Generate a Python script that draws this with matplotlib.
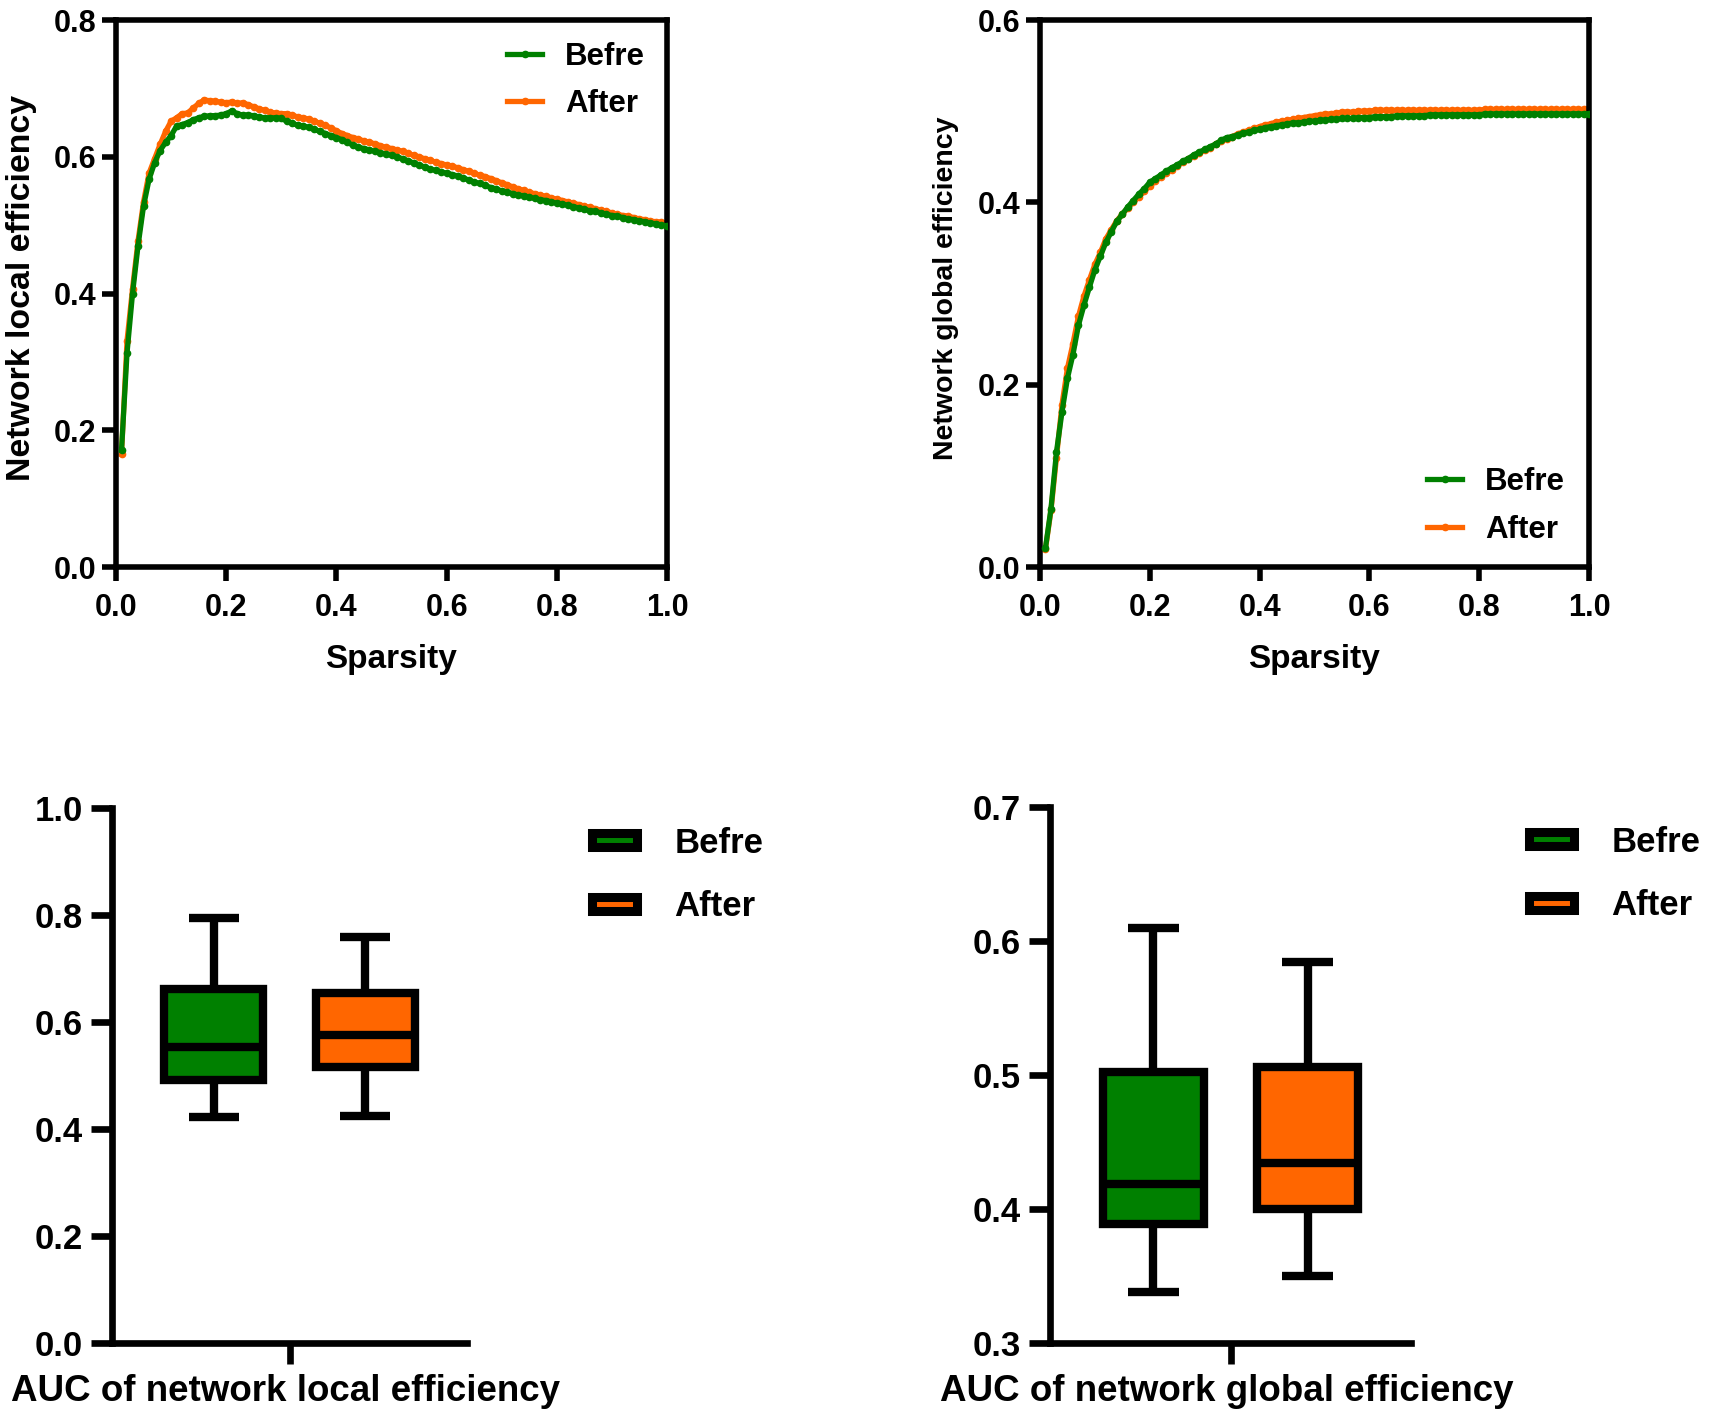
import numpy as np
import matplotlib
matplotlib.use("Agg")
import matplotlib.pyplot as plt
from matplotlib.patches import Patch

plt.rcParams['font.family'] = ['Liberation Sans', 'DejaVu Sans']
plt.rcParams['font.weight'] = 'bold'

GREEN = '#008000'
ORANGE = '#FF6600'
group_names = ['Befre', 'After']

sparsity = np.round(np.arange(1, 101) * 0.01, 2)

local_befre = [
    0.171, 0.313, 0.400, 0.470, 0.528, 0.567, 0.591, 0.609, 0.621, 0.631,
    0.645, 0.647, 0.650, 0.654, 0.657, 0.659, 0.660, 0.660, 0.661, 0.663,
    0.667, 0.663, 0.661, 0.661, 0.660, 0.658, 0.657, 0.657, 0.657, 0.656,
    0.652, 0.649, 0.646, 0.645, 0.643, 0.640, 0.637, 0.634, 0.631, 0.628,
    0.625, 0.621, 0.617, 0.614, 0.612, 0.610, 0.608, 0.606, 0.604, 0.602,
    0.600, 0.597, 0.594, 0.591, 0.588, 0.585, 0.582, 0.580, 0.578, 0.576,
    0.574, 0.572, 0.569, 0.566, 0.563, 0.561, 0.558, 0.555, 0.553, 0.550,
    0.548, 0.546, 0.544, 0.543, 0.541, 0.539, 0.537, 0.536, 0.534, 0.532,
    0.531, 0.529, 0.527, 0.525, 0.523, 0.521, 0.520, 0.518, 0.516, 0.514,
    0.513, 0.511, 0.509, 0.508, 0.506, 0.505, 0.503, 0.502, 0.500, 0.499,
]
local_after = [
    0.165, 0.331, 0.407, 0.477, 0.534, 0.576, 0.597, 0.618, 0.637, 0.652,
    0.657, 0.663, 0.664, 0.671, 0.678, 0.683, 0.682, 0.681, 0.680, 0.679,
    0.680, 0.678, 0.679, 0.676, 0.673, 0.670, 0.668, 0.665, 0.664, 0.663,
    0.663, 0.661, 0.658, 0.657, 0.655, 0.652, 0.649, 0.646, 0.642, 0.638,
    0.634, 0.631, 0.628, 0.626, 0.623, 0.621, 0.619, 0.616, 0.614, 0.612,
    0.610, 0.608, 0.605, 0.602, 0.600, 0.597, 0.595, 0.592, 0.590, 0.588,
    0.586, 0.584, 0.581, 0.579, 0.576, 0.573, 0.571, 0.568, 0.565, 0.562,
    0.559, 0.556, 0.553, 0.551, 0.548, 0.546, 0.544, 0.542, 0.540, 0.538,
    0.536, 0.534, 0.532, 0.530, 0.528, 0.526, 0.524, 0.522, 0.520, 0.518,
    0.516, 0.514, 0.513, 0.511, 0.509, 0.508, 0.506, 0.505, 0.504, 0.503,
]
global_befre = [
    0.021, 0.064, 0.126, 0.170, 0.207, 0.233, 0.265, 0.287, 0.307, 0.326,
    0.341, 0.356, 0.368, 0.379, 0.387, 0.395, 0.402, 0.409, 0.415, 0.422,
    0.426, 0.430, 0.434, 0.438, 0.441, 0.445, 0.448, 0.452, 0.455, 0.458,
    0.461, 0.464, 0.468, 0.471, 0.472, 0.474, 0.476, 0.477, 0.479, 0.480,
    0.482, 0.483, 0.484, 0.485, 0.486, 0.487, 0.487, 0.488, 0.489, 0.489,
    0.490, 0.490, 0.491, 0.491, 0.492, 0.492, 0.492, 0.493, 0.493, 0.493,
    0.494, 0.494, 0.494, 0.494, 0.495, 0.495, 0.495, 0.495, 0.495, 0.495,
    0.496, 0.496, 0.496, 0.496, 0.496, 0.496, 0.496, 0.496, 0.496, 0.496,
    0.497, 0.497, 0.497, 0.497, 0.497, 0.497, 0.497, 0.497, 0.497, 0.497,
    0.497, 0.497, 0.497, 0.497, 0.497, 0.497, 0.497, 0.497, 0.497, 0.497,
]
global_after = [
    0.020, 0.062, 0.120, 0.178, 0.218, 0.245, 0.275, 0.297, 0.315, 0.332,
    0.345, 0.360, 0.370, 0.380, 0.387, 0.394, 0.400, 0.406, 0.412, 0.418,
    0.423, 0.428, 0.432, 0.436, 0.440, 0.444, 0.447, 0.451, 0.454, 0.457,
    0.460, 0.464, 0.467, 0.470, 0.472, 0.475, 0.477, 0.479, 0.481, 0.483,
    0.485, 0.486, 0.488, 0.489, 0.490, 0.491, 0.492, 0.493, 0.494, 0.495,
    0.496, 0.497, 0.497, 0.498, 0.499, 0.499, 0.499, 0.500, 0.500, 0.500,
    0.501, 0.501, 0.501, 0.501, 0.501, 0.501, 0.501, 0.501, 0.501, 0.501,
    0.501, 0.501, 0.501, 0.501, 0.501, 0.501, 0.501, 0.501, 0.501, 0.501,
    0.502, 0.502, 0.502, 0.502, 0.502, 0.502, 0.502, 0.502, 0.502, 0.502,
    0.502, 0.502, 0.502, 0.502, 0.502, 0.502, 0.502, 0.502, 0.502, 0.502,
]

# AUC box summaries: lower whisker, Q1, median, Q3, upper whisker
auc_local_befre = [0.423, 0.492, 0.553, 0.662, 0.795]
auc_local_after = [0.425, 0.516, 0.575, 0.654, 0.759]
auc_global_befre = [0.338, 0.389, 0.419, 0.502, 0.610]
auc_global_after = [0.350, 0.400, 0.434, 0.506, 0.584]

W, H = 1713, 1417
fig = plt.figure(figsize=(W / 100, H / 100), dpi=100)


def px_axes(left, top, right, bottom):
    return fig.add_axes([left / W, 1 - bottom / H, (right - left) / W, (bottom - top) / H])


def curve_panel(ax, befre, after, ylim, ylabel, ylab_size, leg_xy):
    ax.plot(sparsity, after, color=ORANGE, lw=3.8, marker='o', ms=4.5, label='After', zorder=2)
    ax.plot(sparsity, befre, color=GREEN, lw=3.8, marker='o', ms=4.5, label='Befre', zorder=3)
    ax.set_xlim(0, 1)
    ax.set_ylim(*ylim)
    ax.set_xticks(np.arange(0, 1.01, 0.2))
    ax.set_yticks(np.arange(0, ylim[1] + 0.001, 0.2))
    ax.xaxis.set_major_formatter(plt.FormatStrFormatter('%.1f'))
    ax.yaxis.set_major_formatter(plt.FormatStrFormatter('%.1f'))
    for s in ax.spines.values():
        s.set_linewidth(4.0)
    ax.tick_params(direction='out', length=10, width=4.0, labelsize=22)
    ax.tick_params(axis='x', pad=9)
    ax.tick_params(axis='y', pad=4)
    ax.set_xlabel('Sparsity', fontsize=24, fontweight='bold', va='center')
    ax.xaxis.set_label_coords(0.5, -0.170)
    ax.set_ylabel(ylabel, fontsize=ylab_size, fontweight='bold', va='center')
    ax.yaxis.set_label_coords(-0.172, 0.51)
    handles, labels = ax.get_legend_handles_labels()
    fig.legend(handles[::-1], labels[::-1], loc='center left', bbox_to_anchor=leg_xy,
               frameon=False, fontsize=22.5, handlelength=1.13, handletextpad=0.72,
               labelspacing=0.55, borderpad=0, borderaxespad=0)


def box_panel(ax, stats_befre, stats_after, ylim, step, xlabel, leg_xy):
    stats = []
    for name, s in zip(group_names, [stats_befre, stats_after]):
        stats.append(dict(label=name, whislo=s[0], q1=s[1], med=s[2], q3=s[3], whishi=s[4], fliers=[]))
    lw = 6.0
    bp = ax.bxp(stats, positions=[0, 1], widths=0.65, capwidths=0.33, patch_artist=True,
                showfliers=False,
                boxprops=dict(edgecolor='black', linewidth=lw),
                whiskerprops=dict(color='black', linewidth=lw, solid_capstyle='butt'),
                capprops=dict(color='black', linewidth=lw, solid_capstyle='butt'),
                medianprops=dict(color='black', linewidth=lw, solid_capstyle='butt'))
    for patch, c in zip(bp['boxes'], [GREEN, ORANGE]):
        patch.set_facecolor(c)
    ax.set_xlim(-0.67, 1.67)
    ax.set_ylim(*ylim)
    ax.set_yticks(np.arange(ylim[0], ylim[1] + 0.001, step))
    ax.yaxis.set_major_formatter(plt.FormatStrFormatter('%.1f'))
    ax.set_xticks([0.5])
    ax.set_xticklabels([''])
    ax.spines['top'].set_visible(False)
    ax.spines['right'].set_visible(False)
    ax.spines['left'].set_linewidth(4.8)
    ax.spines['bottom'].set_linewidth(4.8)
    ax.tick_params(direction='out', length=15, width=4.8, labelsize=25, pad=6)
    ax.set_xlabel(xlabel, fontsize=26.5, fontweight='bold', va='center')
    ax.xaxis.set_label_coords(0.49, -0.090)
    handles = [Patch(facecolor=GREEN, edgecolor='black', linewidth=6.5, label='Befre'),
               Patch(facecolor=ORANGE, edgecolor='black', linewidth=6.5, label='After')]
    fig.legend(handles=handles, loc='center left', bbox_to_anchor=leg_xy, frameon=False,
               fontsize=25, handlelength=1.3, handleheight=0.25, handletextpad=1.07,
               labelspacing=0.88, borderpad=0, borderaxespad=0)


ax1 = px_axes(116, 20, 667, 567)
curve_panel(ax1, local_befre, local_after, (0, 0.8), 'Network local efficiency', 24.4,
            (507 / W, 1 - 80.5 / H))

ax2 = px_axes(1040, 20, 1589, 567)
curve_panel(ax2, global_befre, global_after, (0, 0.6), 'Network global efficiency', 20.5,
            (1427 / W, 1 - 506 / H))

ax3 = px_axes(112, 808, 467, 1343)
box_panel(ax3, auc_local_befre, auc_local_after, (0, 1.0), 0.2,
          'AUC of network local efficiency', (592 / W, 1 - 875 / H))

ax4 = px_axes(1050, 807, 1411, 1343)
box_panel(ax4, auc_global_befre, auc_global_after, (0.3, 0.7), 0.1,
          'AUC of network global efficiency', (1529 / W, 1 - 874 / H))

fig.savefig('out.png', dpi=100)
